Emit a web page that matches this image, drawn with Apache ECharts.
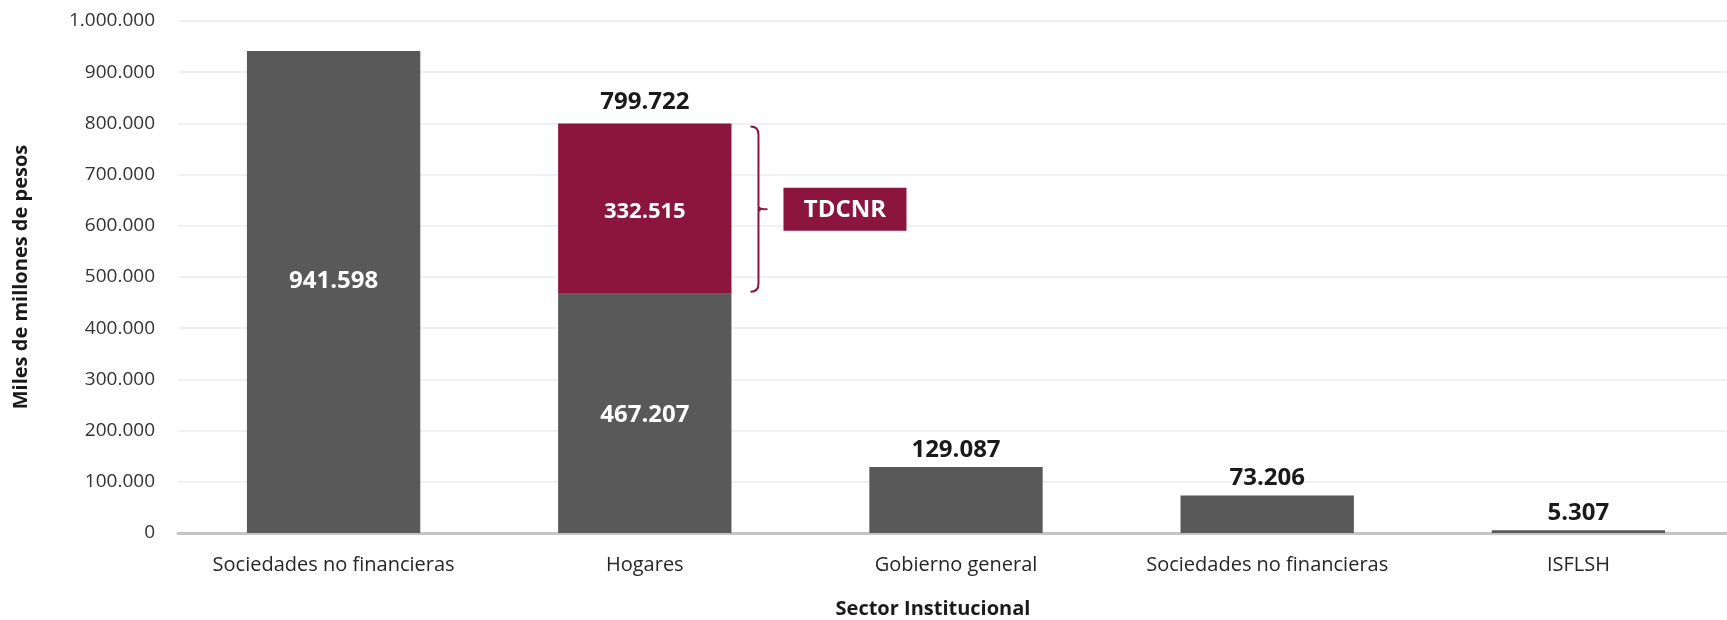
<!DOCTYPE html>
<html>
<head>
<meta charset="utf-8">
<script src="https://cdn.jsdelivr.net/npm/echarts@6/dist/echarts.min.js"></script>
<style>
html,body{margin:0;padding:0;background:#fff;}
#chart{width:1727px;height:620px;}
</style>
</head>
<body>
<div id="chart"></div>
<script>
const categories = ['Sociedades no financieras', 'Hogares', 'Gobierno general', 'Sociedades no financieras', 'ISFLSH'];
const baseValues = [941598, 467207, 129087, 73206, 5307];
const tdcnrValues = [null, 332515, null, null, null];
const bracketLabel = 'TDCNR';
const yTicks = { min: 0, max: 1000000, interval: 100000 };
const yAxisTitle = 'Miles de millones de pesos';
const xAxisTitle = 'Sector Institucional';

const FONT = '"Open Sans", "Noto Sans", sans-serif';
const GRAY = '#595959';
const RED = '#8B153D';

function fmt(v) {
  return String(Math.round(v)).replace(/\B(?=(\d{3})+(?!\d))/g, '.');
}
const labelFmt = p => fmt(p.value);

const tdIdx = tdcnrValues.findIndex(v => v != null);
const totals = baseValues.map((b, i) => b + (tdcnrValues[i] || 0));

const baseData = baseValues.map((v, i) => {
  const d = { value: v };
  if (i === 0) {
    d.label = { show: true, position: 'inside', offset: [0, -11], color: '#fff', fontSize: 24, fontWeight: 'bold', fontFamily: FONT, formatter: labelFmt };
  } else if (i === tdIdx) {
    d.label = { show: true, position: 'inside', offset: [0, 2], color: '#fff', fontSize: 24, fontWeight: 'bold', fontFamily: FONT, formatter: labelFmt };
  } else {
    d.label = { show: true, position: 'top', distance: 5, color: '#1a1a1a', fontSize: 24, fontWeight: 'bold', fontFamily: FONT, formatter: labelFmt };
  }
  return d;
});

const tdData = tdcnrValues.map(v => v == null ? null : {
  value: v,
  label: { show: true, position: 'inside', offset: [0, 3], color: '#fff', fontSize: 22, fontWeight: 'bold', fontFamily: FONT, formatter: labelFmt }
});

const annotData = [[tdIdx, baseValues[tdIdx], totals[tdIdx]]];

const chart = echarts.init(document.getElementById('chart'), null, { renderer: 'canvas' });
chart.setOption({
  animation: false,
  backgroundColor: '#fff',
  grid: { left: 178, top: 21, width: 1556, height: 512, containLabel: false, outerBoundsMode: 'none' },
  xAxis: {
    type: 'category',
    data: categories,
    axisLine: { show: true, lineStyle: { color: '#c4c4c4', width: 3 } },
    axisTick: { show: false },
    axisLabel: { color: '#262626', fontSize: 20, fontFamily: FONT, margin: 22, interval: 0 }
  },
  yAxis: {
    type: 'value',
    min: yTicks.min, max: yTicks.max, interval: yTicks.interval,
    axisLine: { show: false },
    axisTick: { show: false },
    splitLine: { lineStyle: { color: '#f0f0f0', width: 2 } },
    axisLabel: { color: '#333333', fontSize: 19, fontFamily: FONT, margin: 23, formatter: v => fmt(v) }
  },
  graphic: [
    { type: 'text', x: 21, y: 277, rotation: Math.PI / 2,
      style: { text: yAxisTitle, fill: '#1a1a1a', font: 'bold 20px ' + FONT, textAlign: 'center', textVerticalAlign: 'middle' } },
    { type: 'text', x: 933, y: 609,
      style: { text: xAxisTitle, fill: '#1a1a1a', font: 'bold 20px ' + FONT, textAlign: 'center', textVerticalAlign: 'middle' } }
  ],
  series: [
    { type: 'bar', name: 'base', stack: 's', data: baseData, barWidth: '55.7%', itemStyle: { color: GRAY } },
    { type: 'bar', name: bracketLabel, stack: 's', data: tdData, barWidth: '55.7%', itemStyle: { color: RED } },
    {
      type: 'custom', name: 'annot', data: annotData, z: 10, silent: true,
      renderItem: function (params, api) {
        const cat = api.value(0);
        const pLow = api.coord([cat, api.value(1)]);
        const pHigh = api.coord([cat, api.value(2)]);
        const band = api.size([1, 0])[0];
        const barRight = pLow[0] + band * 0.557 / 2;
        const bx = barRight + 27;
        const top = pHigh[1] + 3;
        const bot = pLow[1] - 2;
        const mid = (top + bot) / 2;
        const r = 8;
        const path = 'M' + (bx - r) + ' ' + top +
          ' Q' + bx + ' ' + top + ' ' + bx + ' ' + (top + r) +
          ' L' + bx + ' ' + (mid - 3) +
          ' Q' + bx + ' ' + mid + ' ' + (bx + 9) + ' ' + mid +
          ' M' + bx + ' ' + (mid + 3) +
          ' Q' + bx + ' ' + mid + ' ' + (bx + 3) + ' ' + mid +
          ' M' + bx + ' ' + (mid - 3) +
          ' L' + bx + ' ' + (bot - r) +
          ' Q' + bx + ' ' + bot + ' ' + (bx - r) + ' ' + bot;
        const boxX = bx + 25, boxW = 123, boxH = 43;
        return {
          type: 'group',
          children: [
            { type: 'path', shape: { pathData: path }, style: { stroke: RED, lineWidth: 2, fill: null } },
            { type: 'rect', shape: { x: boxX, y: mid - boxH / 2, width: boxW, height: boxH }, style: { fill: RED } },
            { type: 'text', x: boxX + boxW / 2, y: mid + 1,
              style: { text: bracketLabel, fill: '#fff', font: 'bold 24px ' + FONT, textAlign: 'center', textVerticalAlign: 'middle' } },
            { type: 'text', x: pHigh[0], y: pHigh[1] - 21,
              style: { text: fmt(api.value(2)), fill: '#1a1a1a', font: 'bold 24px ' + FONT, textAlign: 'center', textVerticalAlign: 'middle' } }
          ]
        };
      }
    }
  ]
});
</script>
</body>
</html>
